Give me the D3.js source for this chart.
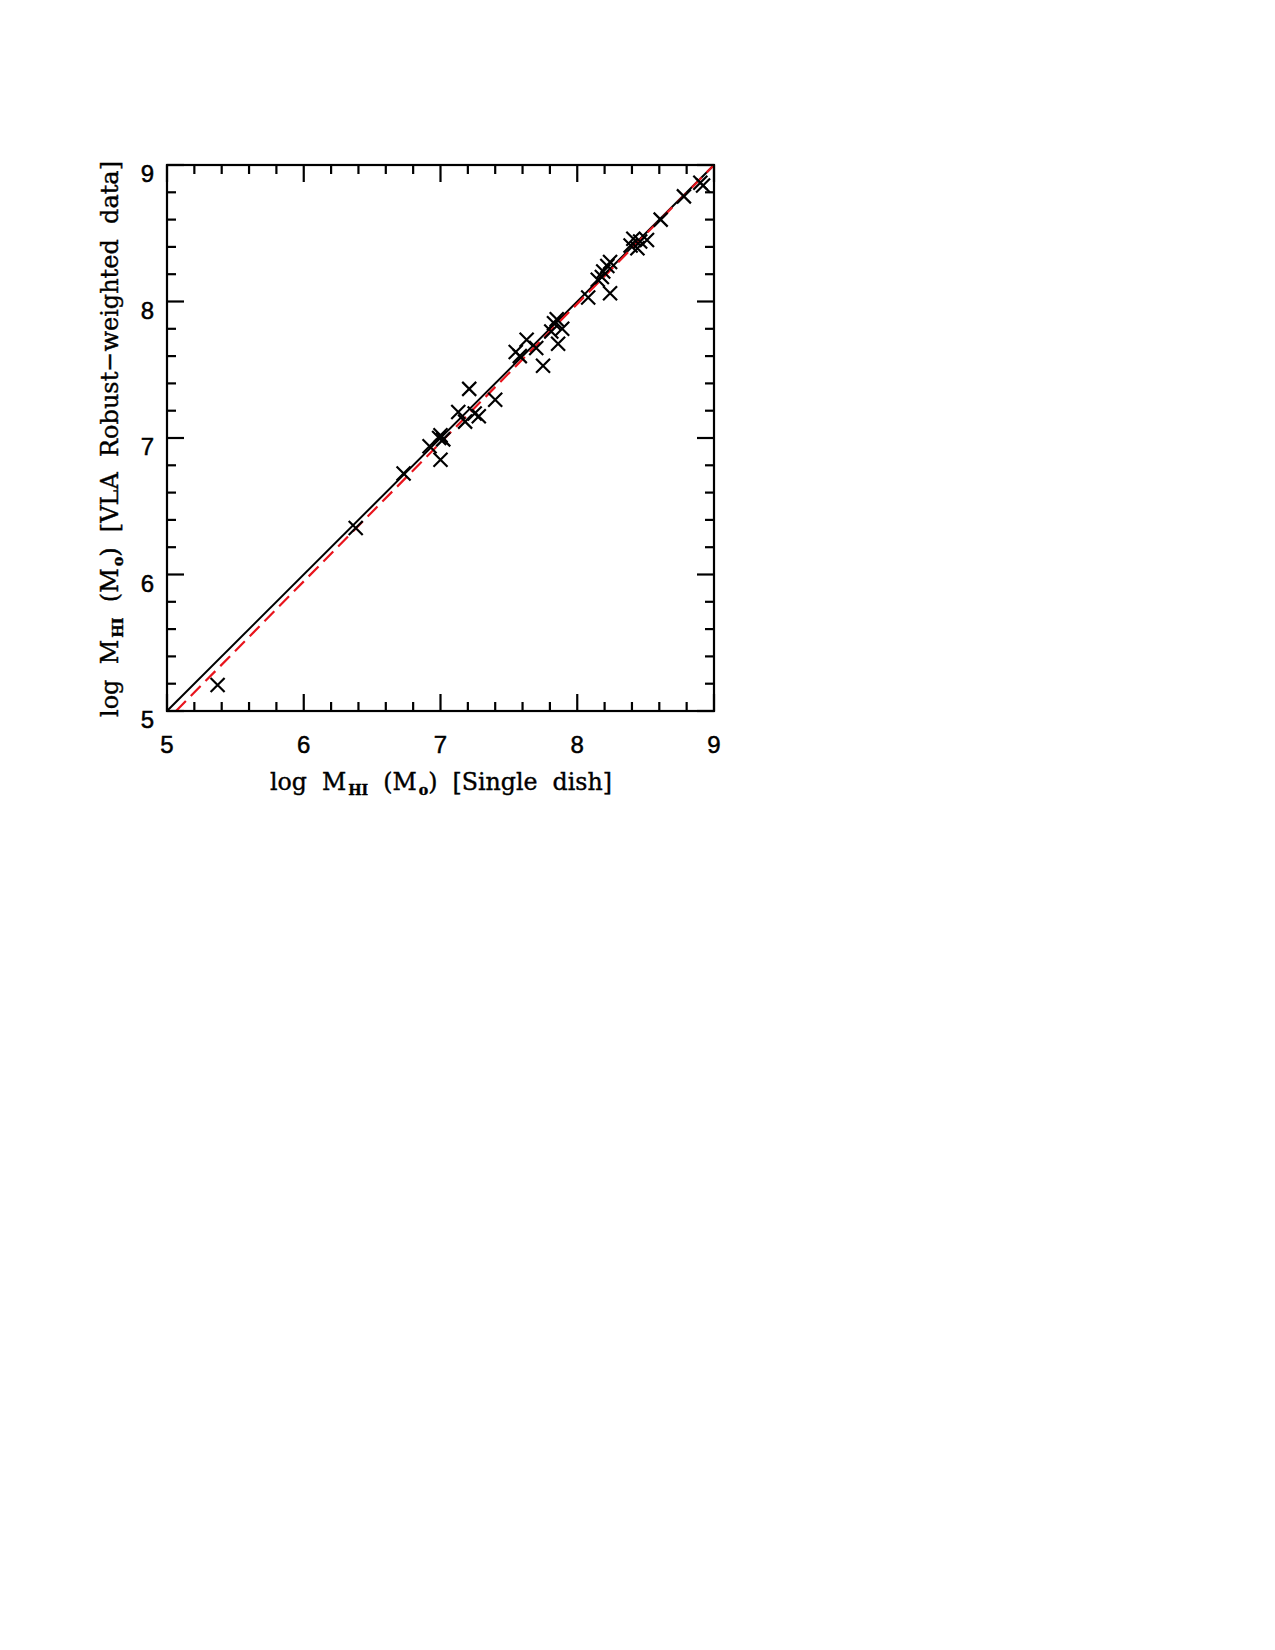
<!DOCTYPE html>
<html>
<head>
<meta charset="utf-8">
<script src="https://d3js.org/d3.v7.min.js"></script>
<style>
  html, body { margin: 0; padding: 0; background: #fff; }
  svg { display: block; }
</style>
</head>
<body>
<script>
// ---- data (log M_HI) ----
const singleDish = [5.37, 6.38, 6.73, 6.92, 6.99, 7.02, 7.00, 7.00, 7.13, 7.18, 7.21, 7.25, 7.28, 7.40,
  7.55, 7.58, 7.63, 7.70, 7.75, 7.81, 7.83, 7.85, 7.86, 7.89, 8.08, 8.24, 8.15, 8.18, 8.19, 8.22, 8.24,
  8.39, 8.41, 8.44, 8.46, 8.51, 8.61, 8.78, 8.90, 8.92];
const vlaRobust = [5.19, 6.34, 6.74, 6.94, 7.00, 6.99, 7.02, 6.84, 7.19, 7.12, 7.36, 7.18, 7.16, 7.28,
  7.63, 7.60, 7.72, 7.66, 7.53, 7.78, 7.84, 7.87, 7.69, 7.80, 8.03, 8.06, 8.16, 8.18, 8.22, 8.26, 8.29,
  8.41, 8.46, 8.39, 8.44, 8.45, 8.60, 8.77, 8.87, 8.85];
const unityLine = [[5, 5], [9, 9]];
const fitLine = [[5.066, 5], [9, 9]];
const majorTicks = [5, 6, 7, 8, 9];
const minorTicks = d3.range(5, 9.001, 0.2);

const W = 1275, H = 1650;
const pL = 167, pR = 714, pT = 165, pB = 711;

const svg = d3.select("body").append("svg").attr("width", W).attr("height", H);

const x = d3.scaleLinear().domain([5, 9]).range([pL, pR]);
const y = d3.scaleLinear().domain([5, 9]).range([pB, pT]);

// clip
svg.append("defs").append("clipPath").attr("id", "clip")
  .append("rect").attr("x", pL).attr("y", pT).attr("width", pR - pL).attr("height", pB - pT);

// ticks on all sides (inward)
const tickG = svg.append("g").attr("stroke", "#000").attr("stroke-width", 2.2);
const majLen = 17, minLen = 9;
minorTicks.forEach(v => {
  const isMaj = Math.abs(v - Math.round(v)) < 1e-6;
  const L = isMaj ? majLen : minLen;
  tickG.append("line").attr("x1", x(v)).attr("x2", x(v)).attr("y1", pB).attr("y2", pB - L);
  tickG.append("line").attr("x1", x(v)).attr("x2", x(v)).attr("y1", pT).attr("y2", pT + L);
  tickG.append("line").attr("y1", y(v)).attr("y2", y(v)).attr("x1", pL).attr("x2", pL + L);
  tickG.append("line").attr("y1", y(v)).attr("y2", y(v)).attr("x1", pR).attr("x2", pR - L);
});

// lines
const line = d3.line().x(d => x(d[0])).y(d => y(d[1]));
const lg = svg.append("g").attr("clip-path", "url(#clip)");
lg.append("path").attr("d", line(unityLine)).attr("stroke", "#000").attr("stroke-width", 2).attr("fill", "none");
lg.append("path").attr("d", line(fitLine)).attr("stroke", "#e8141c").attr("stroke-width", 2.2)
  .attr("stroke-dasharray", "14,7").attr("fill", "none");

// points (x markers)
const s = 7;
const pts = svg.append("g").attr("stroke", "#000").attr("stroke-width", 2.2);
singleDish.forEach((v, i) => {
  const px = x(v), py = y(vlaRobust[i]);
  pts.append("path").attr("d", `M${px - s},${py - s}L${px + s},${py + s}M${px - s},${py + s}L${px + s},${py - s}`);
});

// frame
svg.append("rect").attr("x", pL).attr("y", pT).attr("width", pR - pL).attr("height", pB - pT)
  .attr("fill", "none").attr("stroke", "#000").attr("stroke-width", 2.2);

// tick labels
const tl = svg.append("g").attr("font-family", "Liberation Sans, Arial, sans-serif").attr("font-size", 24)
  .attr("fill", "#000").attr("stroke", "#000").attr("stroke-width", 0.5);
majorTicks.forEach(v => {
  tl.append("text").attr("x", x(v)).attr("y", pB + 42).attr("text-anchor", "middle").text(v);
  tl.append("text").attr("x", pL - 13).attr("y", y(v) + 17).attr("text-anchor", "end").text(v);
});

// axis titles
function title(g, parts) {
  const t = g.append("text");
  parts.forEach(p => {
    const ts = t.append("tspan").text(p.t);
    if (p.sub) ts.attr("font-size", 15).attr("font-weight", "bold").attr("dy", p.dy).attr("dx", 2);
    else if (p.dy) ts.attr("dy", p.dy);
  });
  return t;
}
const serif = "DejaVu Serif, Liberation Serif, serif";
const xt = svg.append("g").attr("font-family", serif).attr("font-size", 25).attr("fill", "#000")
  .attr("stroke", "#000").attr("stroke-width", 0.4);
title(xt, [
  {t: "log  M"}, {t: "HI", sub: true, dy: 5}, {t: "  (M", dy: -5}, {t: "o", sub: true, dy: 5},
  {t: ")  [Single  dish]", dy: -5}
]).attr("x", 270).attr("y", 790).attr("textLength", 342).attr("lengthAdjust", "spacingAndGlyphs")
  .style("white-space", "pre");

const yt = svg.append("g").attr("font-family", serif).attr("font-size", 25).attr("fill", "#000")
  .attr("stroke", "#000").attr("stroke-width", 0.4)
  .attr("transform", `translate(118,0) rotate(-90)`);
title(yt, [
  {t: "log  M"}, {t: "HI", sub: true, dy: 5}, {t: "  (M", dy: -5}, {t: "o", sub: true, dy: 5},
  {t: ")  [VLA  Robust\u2212weighted  data]", dy: -5}
]).attr("x", -717).attr("y", 0).attr("textLength", 556).attr("lengthAdjust", "spacingAndGlyphs")
  .style("white-space", "pre");
</script>
</body>
</html>
